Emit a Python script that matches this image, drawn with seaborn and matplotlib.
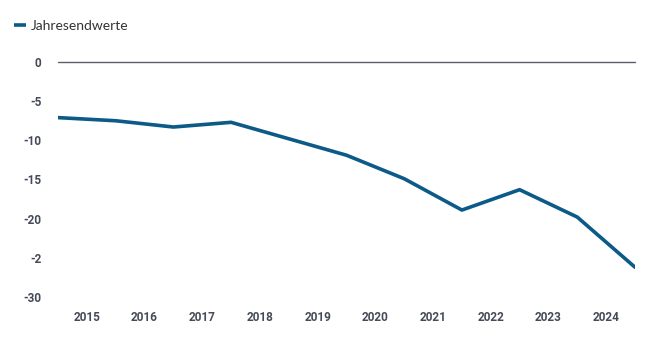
import matplotlib
matplotlib.use("Agg")
import matplotlib.pyplot as plt
import seaborn as sns
import pandas as pd
from matplotlib.lines import Line2D

positions = [0, 1, 2, 3, 4, 5, 6, 7, 8, 9, 10]
values = [-7.1, -7.5, -8.3, -7.7, -9.8, -11.9, -14.9, -18.9, -16.3, -19.8, -26.2]
year_labels = ["2015", "2016", "2017", "2018", "2019", "2020", "2021", "2022", "2023", "2024"]
y_ticks = [0, -5, -10, -15, -20, -25, -30]
y_tick_labels = ["0", "-5", "-10", "-15", "-20", "-2", "-30"]
series_name = "Jahresendwerte"

df = pd.DataFrame({"x": positions, "y": values, "series": series_name})

sns.set_theme(style="white")
plt.rcParams["font.family"] = ["Roboto", "DejaVu Sans"]

fig = plt.figure(figsize=(6.5, 3.48), dpi=100)
ax = fig.add_axes([58 / 650, 1 - 297 / 348, (635 - 58) / 650, (297 - 62) / 348])

line_color = "#0b5a87"
text_color = "#454a57"

sns.lineplot(data=df, x="x", y="y", hue="series", palette=[line_color],
             linewidth=2.6, ax=ax, legend=False)

ax.axhline(0, color="#5a5f6b", linewidth=1.0, clip_on=False, zorder=1)

ax.set_xlim(0, 10)
ax.set_ylim(-30, 0)
ax.set_xticks([p + 0.5 for p in positions[:-1]])
ax.set_xticklabels(year_labels)
ax.set_yticks(y_ticks)
ax.set_yticklabels(y_tick_labels)
ax.tick_params(axis="both", length=0, labelsize=8.5, labelcolor=text_color)
ax.tick_params(axis="x", pad=10)
ax.tick_params(axis="y", pad=12)
for lab in ax.get_xticklabels() + ax.get_yticklabels():
    lab.set_fontweight("bold")
ax.set_xlabel("")
ax.set_ylabel("")
for s in ax.spines.values():
    s.set_visible(False)
ax.grid(False)

handle = Line2D([0], [0], color=line_color, linewidth=2.6, solid_capstyle="butt")
fig.legend([handle], [series_name], loc="upper left", bbox_to_anchor=(0.0, 1 - 6 / 348),
           frameon=False, handlelength=0.9, handletextpad=0.3, borderaxespad=0.6,
           prop={"family": "Lato", "size": 10}, labelcolor="#333333")

fig.savefig("out.png", dpi=100, facecolor="white")
